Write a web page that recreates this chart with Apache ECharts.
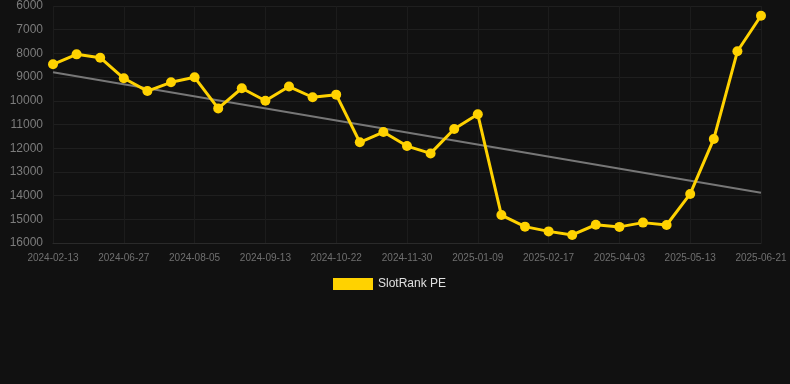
<!DOCTYPE html>
<html>
<head>
<meta charset="utf-8">
<script src="https://cdn.jsdelivr.net/npm/echarts@6/dist/echarts.min.js"></script>
<style>
html,body{margin:0;padding:0;background:#111111;}
#chart{width:790px;height:384px;}
</style>
</head>
<body>
<div id="chart"></div>
<script>
var categories = [
  '2024-02-13','2024-06-01','2024-06-14','2024-06-27','2024-07-10','2024-07-23',
  '2024-08-05','2024-08-18','2024-08-31','2024-09-13','2024-09-26','2024-10-09',
  '2024-10-22','2024-11-04','2024-11-17','2024-11-30','2024-12-13','2024-12-26',
  '2025-01-09','2025-01-22','2025-02-04','2025-02-17','2025-03-02','2025-03-17',
  '2025-04-03','2025-04-16','2025-04-29','2025-05-13','2025-05-26','2025-06-08',
  '2025-06-21'
];
var rankValues = [
  8460, 8040, 8180, 9050, 9590, 9220, 9010, 10320, 9470, 10000,
  9400, 9850, 9740, 11750, 11320, 11910, 12220, 11190, 10570, 14820,
  15310, 15510, 15660, 15230, 15320, 15140, 15240, 13930, 11610, 7910,
  6410
];
var trendEnds = [8800, 13880];
var yTicks = { min: 6000, max: 16000, interval: 1000 };

var trendData = categories.map(function (c, i) {
  if (i === 0) return trendEnds[0];
  if (i === categories.length - 1) return trendEnds[1];
  return null;
});

var chart = echarts.init(document.getElementById('chart'));
chart.setOption({
  backgroundColor: '#111111',
  animation: false,
  grid: { left: 53, right: 29, top: 6, bottom: 141, containLabel: false },
  legend: {
    data: [{ name: 'SlotRank PE', icon: 'rect' }],
    top: 273,
    left: 328,
    itemWidth: 40,
    itemHeight: 12,
    itemGap: 10,
    textStyle: { color: '#e0e0e0', fontSize: 12, fontFamily: 'Liberation Sans, Arial, sans-serif' }
  },
  xAxis: {
    type: 'category',
    data: categories,
    boundaryGap: false,
    axisLine: { show: true, lineStyle: { color: '#2a2a2a' } },
    axisTick: { show: false },
    axisLabel: {
      interval: 2,
      color: '#707070',
      fontSize: 10,
      margin: 10,
      fontFamily: 'Liberation Sans, Arial, sans-serif'
    },
    splitLine: { show: true, interval: 2, lineStyle: { color: '#1c1c1c' } }
  },
  yAxis: {
    type: 'value',
    inverse: true,
    min: yTicks.min,
    max: yTicks.max,
    interval: yTicks.interval,
    axisLine: { show: false },
    axisTick: { show: false },
    axisLabel: {
      color: '#7c7c7c',
      fontSize: 12,
      margin: 10,
      fontFamily: 'Liberation Sans, Arial, sans-serif',
      formatter: function (v) { return String(v); }
    },
    splitLine: { show: true, lineStyle: { color: '#1f1f1f' } }
  },
  series: [
    {
      name: 'SlotRank PE',
      type: 'line',
      data: rankValues,
      smooth: false,
      symbol: 'circle',
      symbolSize: 10,
      lineStyle: { color: '#FFD200', width: 3 },
      itemStyle: { color: '#FFD200' },
      z: 3
    },
    {
      name: 'trend',
      type: 'line',
      data: trendData,
      connectNulls: true,
      symbol: 'none',
      lineStyle: { color: '#777777', width: 2 },
      itemStyle: { color: '#777777' },
      z: 2,
      silent: true
    }
  ]
});
</script>
</body>
</html>
